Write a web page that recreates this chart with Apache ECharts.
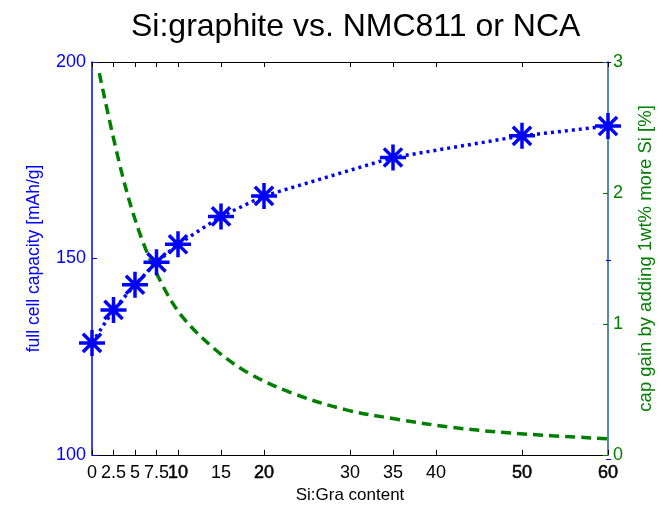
<!DOCTYPE html>
<html>
<head>
<meta charset="utf-8">
<script src="https://cdn.jsdelivr.net/npm/echarts@6/dist/echarts.min.js"></script>
<style>html,body{margin:0;padding:0;background:#fff;}#c{width:663px;height:509px;}</style>
</head>
<body>
<div id="c"></div>
<script>
// Data
const siContent = [0, 2.5, 5, 7.5, 10, 15, 20, 35, 50, 60];
const capacity = [128.5, 136.9, 143.3, 149.0, 153.6, 160.7, 165.9, 175.7, 181.2, 183.7];

const gainX = [0.85, 3.44, 5.75, 8.25, 10.56, 14.43, 18.28, 23.26, 29.47, 35.64, 41.89, 49.14, 60];
const gainY = [2.915, 2.159, 1.655, 1.290, 1.050, 0.799, 0.622, 0.472, 0.345, 0.270, 0.210, 0.164, 0.123];

const xTicks = [0, 2.5, 5, 7.5, 10, 15, 20, 30, 35, 40, 50, 60];
const boldTicks = [10, 20, 50, 60];

const BLUE = '#0000ff', GREEN = '#008000', RIGHTLINE = '#1f5f8f';
const FONT = '"Liberation Sans", Arial, sans-serif';

const chart = echarts.init(document.getElementById('c'), null, {renderer: 'canvas'});
const starPath = 'path://M0,-10L0,10M-10,0L10,0M-7,-7L7,7M-7,7L7,-7';
const G = {left: 92, right: 52, top: 62, bottom: 50, containLabel: false};

chart.setOption({
  animation: false,
  backgroundColor: '#fff',
  title: {
    text: 'Si:graphite vs. NMC811 or NCA',
    left: 126, top: 6,
    textStyle: {fontFamily: FONT, fontSize: 32, fontWeight: 'normal', color: '#000'}
  },
  grid: [Object.assign({}, G), Object.assign({}, G)],
  xAxis: [{
    gridIndex: 0, type: 'value', min: 0, max: 60, position: 'bottom',
    name: 'Si:Gra content', nameLocation: 'middle', nameGap: 26,
    nameTextStyle: {fontFamily: FONT, fontSize: 17, color: '#000'},
    axisLine: {show: true, onZero: false, lineStyle: {color: '#000', width: 1}},
    axisTick: {show: true, inside: true, length: 5, customValues: xTicks, lineStyle: {color: '#000'}},
    axisLabel: {
      show: true, customValues: xTicks, margin: 9, hideOverlap: false,
      fontFamily: FONT, fontSize: 18, color: '#000',
      formatter: v => boldTicks.indexOf(v) >= 0 ? '{b|' + v + '}' : String(v),
      rich: {b: {fontFamily: FONT, fontSize: 18, color: '#000', textBorderColor: '#000', textBorderWidth: 0.5}}
    },
    splitLine: {show: false}
  }, {
    gridIndex: 0, type: 'value', min: 0, max: 60, position: 'top',
    axisLine: {show: true, onZero: false, lineStyle: {color: '#000', width: 1}},
    axisTick: {show: true, inside: true, length: 5, customValues: xTicks, lineStyle: {color: '#000'}},
    axisLabel: {show: false},
    splitLine: {show: false}
  }, {
    gridIndex: 1, type: 'value', min: 0, max: 60, show: false
  }],
  yAxis: [{
    gridIndex: 0, type: 'value', min: 100, max: 200, interval: 50, position: 'left',
    name: 'full cell capacity [mAh/g]', nameLocation: 'middle', nameGap: 49, nameRotate: 90,
    nameTextStyle: {fontFamily: FONT, fontSize: 17.5, color: BLUE},
    axisLine: {show: true, onZero: false, lineStyle: {color: BLUE, width: 1.5}},
    axisTick: {show: true, inside: true, length: 5, lineStyle: {color: BLUE}},
    axisLabel: {show: true, margin: 6, padding: [4, 0, 0, 0], fontFamily: FONT, fontSize: 18, color: BLUE},
    splitLine: {show: false}
  }, {
    gridIndex: 0, type: 'value', min: 0, max: 3, interval: 1, position: 'right',
    name: 'cap gain by adding 1wt% more Si [%]', nameLocation: 'middle', nameGap: 28, nameRotate: 90,
    nameTextStyle: {fontFamily: FONT, fontSize: 18.5, color: GREEN},
    axisLine: {show: true, onZero: false, lineStyle: {color: RIGHTLINE, width: 1.5}},
    axisTick: {show: true, inside: true, length: 5, lineStyle: {color: GREEN}},
    axisLabel: {show: true, margin: 5, padding: [4, 0, 0, 0], fontFamily: FONT, fontSize: 18, color: GREEN},
    splitLine: {show: false}
  }, {
    gridIndex: 1, type: 'value', min: 100, max: 200, interval: 50, position: 'right',
    axisLine: {show: false, onZero: false},
    axisTick: {show: true, inside: true, length: 5, lineStyle: {color: BLUE}},
    axisLabel: {show: false},
    splitLine: {show: false}
  }],
  series: [{
    type: 'line', xAxisIndex: 0, yAxisIndex: 1,
    data: gainX.map((x, i) => [x, gainY[i]]),
    showSymbol: false, smooth: 0.35,
    lineStyle: {color: GREEN, width: 3.5, type: [10, 6], cap: 'butt'},
    z: 2
  }, {
    type: 'line', xAxisIndex: 0, yAxisIndex: 0,
    data: siContent.map((x, i) => [x, capacity[i]]),
    showSymbol: false,
    lineStyle: {color: BLUE, width: 3.5, type: [3, 4], cap: 'butt'},
    z: 3
  }, {
    type: 'scatter', xAxisIndex: 0, yAxisIndex: 0,
    data: siContent.map((x, i) => [x, capacity[i]]),
    symbol: starPath, symbolSize: 26,
    itemStyle: {color: 'rgba(0,0,0,0)', borderColor: BLUE, borderWidth: 3.5, opacity: 1},
    z: 4
  }]
});
</script>
</body>
</html>
